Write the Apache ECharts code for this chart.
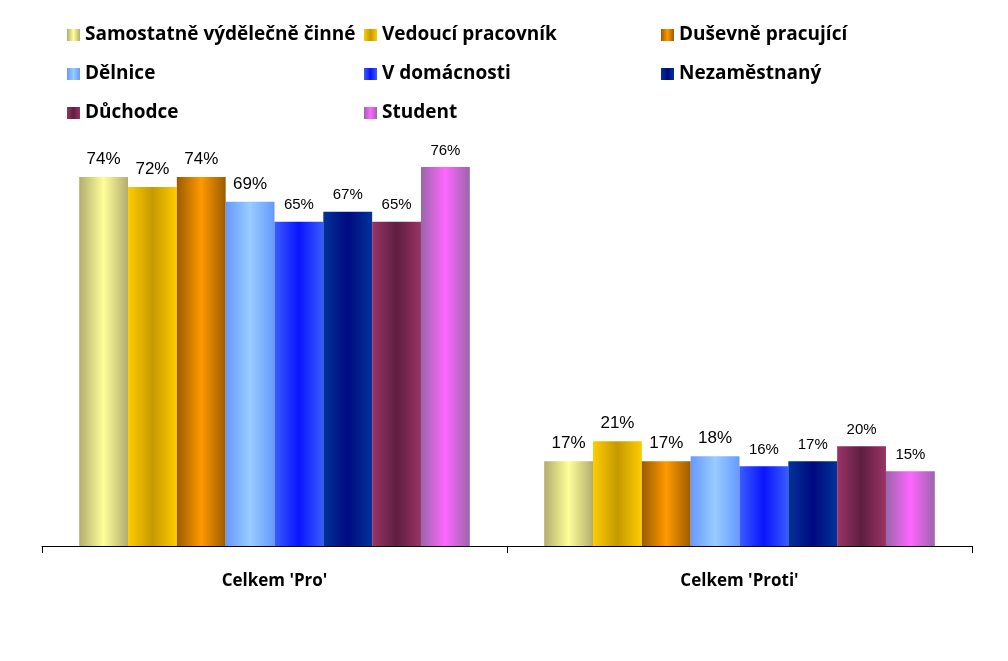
<!DOCTYPE html>
<html>
<head>
    <meta charset="UTF-8">
    <title>Celkem Pro / Proti</title>
    <script type="text/javascript" src="https://cdn.jsdelivr.net/npm/echarts@6/dist/echarts.min.js"></script>
    <style>
        html, body { margin: 0; padding: 0; background: #fff; }
    </style>
</head>
<body>
<div id="chart" style="width:1008px; height:661px;"></div>

<script>
    // kategorie a hodnoty (%)
    var categories = ["Celkem 'Pro'", "Celkem 'Proti'"];
    var seriesNames = ['Samostatně výdělečně činné', 'Vedoucí pracovník', 'Duševně pracující',
        'Dělnice', 'V domácnosti', 'Nezaměstnaný', 'Důchodce', 'Student'];
    var samostatne = [74, 17];
    var vedouci = [72, 21];
    var dusevne = [74, 17];
    var delnice = [69, 18];
    var domacnost = [65, 16];
    var nezamestnany = [67, 17];
    var duchodce = [65, 20];
    var student = [76, 15];
    var values = [samostatne, vedouci, dusevne, delnice, domacnost, nezamestnany, duchodce, student];

    // barvy: okraj, stred (vodorovny gradient)
    var colors = [
        ['#b3ad6e', '#ffff99'],
        ['#ffcc00', '#c49a00'],
        ['#9a5c00', '#ff9900'],
        ['#6699ff', '#99ccff'],
        ['#3a5cff', '#0a14ff'],
        ['#003399', '#000a80'],
        ['#993366', '#5e1f40'],
        ['#9a66aa', '#ff66ff']
    ];
    var bigLabel = [true, true, true, true, false, false, false, false];

    function grad(c) {
        return new echarts.graphic.LinearGradient(0, 0, 1, 0, [
            {offset: 0, color: c[0]},
            {offset: 0.5, color: c[1]},
            {offset: 1, color: c[0]}
        ]);
    }

    var series = [];
    for (var i = 0; i < seriesNames.length; i++) {
        series.push({
            name: seriesNames[i],
            type: 'bar',
            data: values[i],
            barGap: 0,
            barCategoryGap: '16%',
            itemStyle: {color: grad(colors[i])},
            label: {
                show: true,
                position: 'top',
                distance: 9,
                formatter: '{c}%',
                color: '#000',
                fontFamily: 'Liberation Sans, Arial',
                fontSize: bigLabel[i] ? 17 : 15
            }
        });
    }

    var legendText = {
        color: '#000',
        fontFamily: 'Open Sans, Noto Sans',
        fontWeight: 'bold',
        fontSize: 19,
        lineHeight: 20
    };
    var legendBase = {
        orient: 'vertical',
        top: 25,
        padding: 0,
        itemWidth: 13,
        itemHeight: 12,
        itemGap: 19,
        icon: 'rect',
        selectedMode: false,
        textStyle: legendText
    };

    var option = {
        animation: false,
        legend: [
            Object.assign({}, legendBase, {left: 67, data: [seriesNames[0], seriesNames[3], seriesNames[6]]}),
            Object.assign({}, legendBase, {left: 364, data: [seriesNames[1], seriesNames[4], seriesNames[7]]}),
            Object.assign({}, legendBase, {left: 661, data: [seriesNames[2], seriesNames[5]]})
        ],
        grid: {left: 42, right: 36, top: 147, bottom: 115},
        xAxis: {
            type: 'category',
            data: categories,
            axisLine: {lineStyle: {color: '#000', width: 1}},
            axisTick: {show: true, length: 7, lineStyle: {color: '#000'}},
            axisLabel: {
                color: '#000',
                fontFamily: 'Open Sans, Noto Sans',
                fontWeight: 'bold',
                fontSize: 17,
                margin: 27
            }
        },
        yAxis: {
            type: 'value',
            min: 0,
            max: 80,
            show: false,
            splitLine: {show: false}
        },
        series: series
    };

    var myChart = echarts.init(document.getElementById('chart'));
    myChart.setOption(option);
</script>
</body>
</html>
